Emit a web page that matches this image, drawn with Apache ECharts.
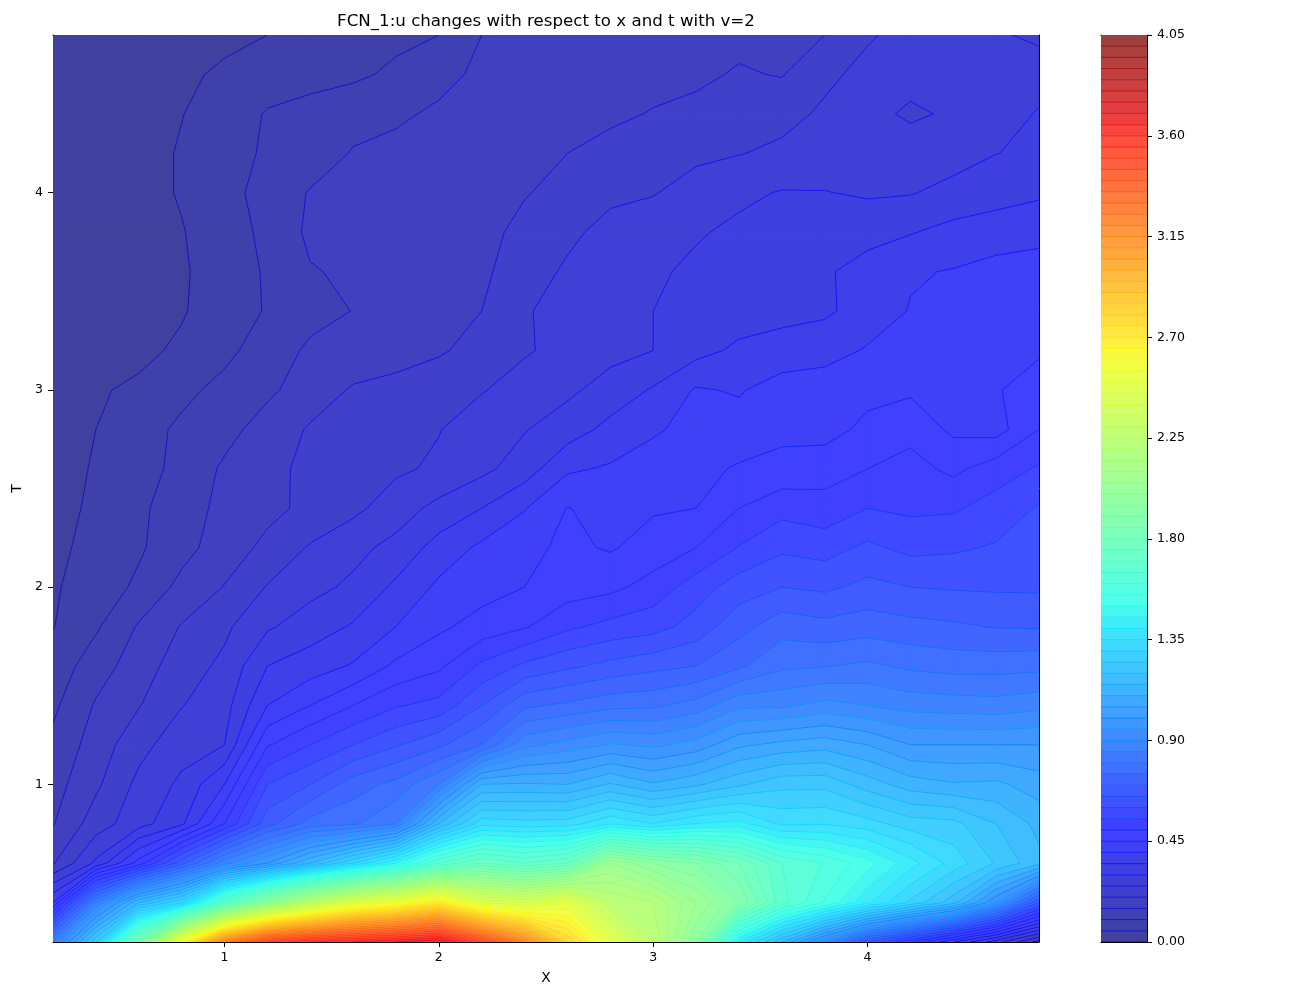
<!DOCTYPE html>
<html><head><meta charset="utf-8"><style>html,body{margin:0;padding:0;background:#fff}#c{width:1300px;height:1000px}</style>
<script src="https://cdn.jsdelivr.net/npm/echarts@6/dist/echarts.min.js"></script></head><body><div id="c"></div>
<script>
const xValues=[0.2,0.4,0.6,0.8,1.0,1.2,1.4,1.6,1.8,2.0,2.2,2.4,2.6,2.8,3.0,3.2,3.4,3.6,3.8,4.0,4.2,4.4,4.6,4.8];
const tValues=[0.2,0.4,0.6,0.8,1.0,1.2,1.4,1.6,1.8,2.0,2.2,2.4,2.6,2.8,3.0,3.2,3.4,3.6,3.8,4.0,4.2,4.4,4.6,4.8];
const u_t02=[.85,1.25,1.85,2.6,3.2,3.5,3.6,3.65,3.7,3.75,3.5,3.2,2.8,2.5,2.25,1.95,1.4,1.15,.9,.65,.5,.35,.22,.08];
const u_t04=[.4,.85,1.15,1.3,1.7,2.0,2.25,2.45,2.55,2.7,2.45,2.4,2.5,2.25,2.2,2.05,1.9,1.67,1.545,1.41,1.29,1.17,.95,.65];
const u_t06=[.195,.31,.47,.68,.88,1.0,1.15,1.3,1.45,1.65,1.75,1.7,1.75,2.05,1.95,1.9,1.8,1.65,1.595,1.52,1.42,1.33,1.245,1.165];
const u_t08=[.147,.225,.28,.34,.5,.68,.77,.79,.85,1.15,1.33,1.32,1.325,1.395,1.35,1.4,1.42,1.34,1.346,1.32,1.275,1.265,1.2,1.135];
const u_t10=[.13,.19,.263,.31,.4,.6,.65,.725,.765,.85,1.1,1.105,1.1,1.155,1.105,1.14,1.19,1.235,1.235,1.175,1.125,1.105,1.11,1.075];
const u_t12=[.112,.172,.233,.28,.3,.495,.55,.6,.645,.69,.75,.885,.92,.955,.94,.97,1.04,1.065,1.08,1.05,1.0,1.0,1.0,1.0];
const u_t14=[.09,.155,.197,.248,.28,.4,.45,.5,.545,.566,.65,.74,.76,.785,.79,.82,.89,.89,.917,.9,.88,.875,.87,.885];
const u_t16=[.07,.127,.175,.226,.261,.35,.375,.405,.46,.49,.56,.61,.64,.665,.685,.7,.74,.79,.797,.81,.79,.78,.78,.785];
const u_t18=[.048,.093,.155,.203,.24,.293,.325,.355,.40,.44,.47,.495,.54,.565,.58,.62,.682,.73,.716,.727,.716,.708,.697,.695];
const u_t20=[.045,.071,.11,.164,.202,.253,.285,.31,.36,.41,.43,.45,.475,.487,.52,.575,.625,.65,.64,.664,.65,.645,.643,.642];
const u_t22=[.04,.063,.093,.133,.175,.212,.255,.285,.315,.37,.41,.437,.46,.445,.47,.5,.553,.59,.58,.61,.586,.592,.605,.623];
const u_t24=[.035,.058,.09,.128,.163,.187,.212,.238,.275,.315,.35,.397,.452,.43,.445,.45,.5,.533,.518,.55,.54,.543,.571,.605];
const u_t26=[.032,.054,.082,.113,.158,.186,.212,.228,.242,.258,.287,.325,.392,.406,.425,.437,.455,.465,.48,.5,.518,.488,.526,.556];
const u_t28=[.03,.05,.078,.11,.133,.172,.205,.217,.235,.248,.275,.297,.325,.365,.393,.417,.422,.438,.43,.463,.484,.44,.43,.5];
const u_t30=[.025,.044,.06,.087,.115,.14,.175,.205,.213,.225,.247,.27,.29,.32,.355,.405,.395,.423,.428,.435,.442,.443,.447,.468];
const u_t32=[.024,.03,.036,.06,.087,.125,.158,.17,.183,.195,.215,.245,.265,.285,.3,.333,.36,.37,.38,.405,.42,.43,.44,.445];
const u_t34=[.022,.03,.036,.045,.08,.103,.135,.151,.168,.178,.2,.245,.27,.285,.3,.315,.325,.335,.342,.37,.403,.415,.425,.44];
const u_t36=[.022,.03,.036,.046,.066,.107,.147,.157,.17,.178,.19,.228,.257,.272,.292,.31,.32,.335,.345,.365,.395,.403,.422,.44];
const u_t38=[.02,.028,.035,.048,.07,.115,.159,.165,.172,.18,.19,.209,.24,.265,.28,.295,.31,.32,.33,.337,.347,.366,.369,.372];
const u_t40=[.018,.026,.037,.053,.08,.122,.153,.163,.172,.18,.19,.198,.21,.24,.247,.27,.29,.303,.302,.293,.297,.315,.335,.345];
const u_t42=[.017,.025,.037,.053,.077,.108,.127,.153,.163,.172,.18,.19,.2,.217,.23,.24,.248,.26,.265,.27,.272,.28,.299,.31];
const u_t44=[.015,.022,.033,.049,.066,.105,.12,.135,.142,.158,.167,.175,.182,.19,.203,.213,.222,.235,.2575,.263,.243,.256,.27,.305];
const u_t46=[.012,.02,.03,.042,.057,.07,.08,.09,.11,.135,.16,.165,.172,.178,.184,.19,.205,.197,.24,.263,.265,.268,.27,.275];
const u_t48=[.01,.015,.02,.03,.04,.05,.063,.075,.088,.10,.15,.156,.162,.168,.175,.181,.187,.194,.2,.245,.265,.27,.256,.24];
const U=[u_t02,u_t04,u_t06,u_t08,u_t10,u_t12,u_t14,u_t16,u_t18,u_t20,u_t22,u_t24,u_t26,u_t28,u_t30,u_t32,u_t34,u_t36,u_t38,u_t40,u_t42,u_t44,u_t46,u_t48];
const xTicks=[1,2,3,4], tTicks=[1,2,3,4];
const barTicks=[0,0.45,0.9,1.35,1.8,2.25,2.7,3.15,3.6,4.05];
const levelStep=0.05, levelCount=81;
const levels=Array.from({length:levelCount+1},(_,i)=>i*levelStep);

const ALPHA=0.75, FONT='"DejaVu Sans"';
function seg(t,p){for(let i=1;i<p.length;i++){if(t<=p[i][0]){const a=p[i-1],b=p[i];return a[1]+(b[1]-a[1])*(t-a[0])/(b[0]-a[0]);}}return p[p.length-1][1];}
function jet(t){t=Math.min(1,t);return [seg(t,[[0,0],[.35,0],[.66,1],[.89,1],[1,.5]]),seg(t,[[0,0],[.125,0],[.375,1],[.64,1],[.91,0],[1,0]]),seg(t,[[0,.5],[.11,1],[.34,1],[.65,0],[1,0]])];}
function rgb(c){return 'rgb('+c.map(v=>Math.round(v*255)).join(',')+')';}
const bandRgb=k=>jet(k/(levelCount-1)).map(v=>ALPHA*v+1-ALPHA);
const bandColor=k=>rgb(bandRgb(k));
const lineColor=k=>{const j=jet(k/levelCount+(k<20?0.04:0)),b=bandRgb(Math.min(k,levelCount-1));return rgb(j.map((v,i)=>0.85*v+0.15*b[i]));};

function clip(poly,level,keepAbove){
  const out=[];
  for(let i=0;i<poly.length;i++){
    const a=poly[i],b=poly[(i+1)%poly.length];
    const ia=keepAbove?a[2]>=level:a[2]<=level, ib=keepAbove?b[2]>=level:b[2]<=level;
    if(ia)out.push(a);
    if(ia!==ib){const f=(level-a[2])/(b[2]-a[2]);out.push([a[0]+f*(b[0]-a[0]),a[1]+f*(b[1]-a[1]),level]);}
  }
  return out;
}
function quad(i,j){
  const x0=xValues[i],x1=xValues[i+1],y0=tValues[j],y1=tValues[j+1];
  return [[x0,y0,U[j][i]],[x1,y0,U[j][i+1]],[x1,y1,U[j+1][i+1]],[x0,y1,U[j+1][i]]];
}
const cells=[];
for(let j=0;j<tValues.length-1;j++)for(let i=0;i<xValues.length-1;i++)cells.push([i,j]);

function renderFill(params,api){
  const q=quad(api.value(0),api.value(1)),children=[];
  const vs=q.map(p=>p[2]),mn=Math.min(...vs),mx=Math.max(...vs);
  const k0=Math.max(0,Math.floor(mn/levelStep)),k1=Math.min(levelCount-1,Math.floor(mx/levelStep));
  for(let k=k0;k<=k1;k++){
    let p=clip(q,levels[k],true);if(p.length<3)continue;
    p=clip(p,levels[k+1],false);if(p.length<3)continue;
    const col=bandColor(k);
    children.push({type:'polygon',shape:{points:p.map(r=>api.coord([r[0],r[1]]))},style:{fill:col,stroke:col,lineWidth:1.4,lineJoin:'round'},silent:true});
  }
  return {type:'group',children};
}
function renderLines(params,api){
  const q=quad(api.value(0),api.value(1)),children=[];
  const vs=q.map(p=>p[2]),mn=Math.min(...vs),mx=Math.max(...vs),mean=(vs[0]+vs[1]+vs[2]+vs[3])/4;
  for(let k=Math.ceil(mn/levelStep);k<=Math.floor(mx/levelStep)&&k<=levelCount;k++){
    const L=levels[k],pts=[];
    for(let e=0;e<4;e++){
      const a=q[e],b=q[(e+1)%4];
      if((a[2]<L)!==(b[2]<L)){const f=(L-a[2])/(b[2]-a[2]);pts.push(api.coord([a[0]+f*(b[0]-a[0]),a[1]+f*(b[1]-a[1])]));}
    }
    let pairs=[];
    if(pts.length===2)pairs=[[pts[0],pts[1]]];
    else if(pts.length===4){
      const firstLow=vs[0]<L;
      pairs=((mean<L)===firstLow)?[[pts[0],pts[3]],[pts[1],pts[2]]]:[[pts[0],pts[1]],[pts[2],pts[3]]];
    }
    for(const pr of pairs)children.push({type:'line',shape:{x1:pr[0][0],y1:pr[0][1],x2:pr[1][0],y2:pr[1][1]},style:{stroke:lineColor(k),lineWidth:0.8},silent:true});
  }
  return {type:'group',children};
}
const barBands=levels.slice(0,levelCount).map((l,k)=>[l,levels[k+1],k]);
function renderBar(params,api){
  const lo=api.value(0),hi=api.value(1),k=api.value(2);
  const a=api.coord([0,lo]),b=api.coord([1,hi]);
  const col=bandColor(k);
  return {type:'rect',shape:{x:a[0],y:b[1],width:b[0]-a[0],height:a[1]-b[1]},style:{fill:col,stroke:col,lineWidth:0.5},silent:true};
}
function renderBarLines(params,api){
  const k=api.value(0);
  const a=api.coord([0,levels[k]]),b=api.coord([1,levels[k]]);
  return {type:'line',shape:{x1:a[0],y1:a[1],x2:b[0],y2:b[1]},style:{stroke:lineColor(k),lineWidth:0.8},silent:true};
}
const axLine={show:true,onZero:false,lineStyle:{color:'#000',width:1}};
const tick={show:true,length:5,lineStyle:{color:'#000',width:1}};
const lab={color:'#000',fontFamily:FONT,fontSize:12.5};
const fmt2=v=>v.toFixed(2);
const chart=echarts.init(document.getElementById('c'),null,{renderer:'canvas'});
chart.setOption({
  animation:false,backgroundColor:'#fff',
  title:{text:'FCN_1:u changes with respect to x and t with v=2',left:541,top:8,textAlign:'center',textStyle:{color:'#000',fontFamily:FONT,fontSize:16.67,fontWeight:'normal'}},
  grid:[{left:53,right:261,top:35,bottom:58},{left:1101,right:153,top:35,bottom:58}],
  xAxis:[
    {type:'value',gridIndex:0,min:0.2,max:4.8,position:'bottom',name:'X',nameLocation:'middle',nameGap:29,nameTextStyle:{color:'#000',fontFamily:FONT,fontSize:13.9},
     axisLine:axLine,axisTick:{...tick,customValues:xTicks},axisLabel:{...lab,margin:9,customValues:xTicks,formatter:v=>String(v)},splitLine:{show:false}},
    {type:'value',gridIndex:0,min:0.2,max:4.8,position:'top',axisLine:axLine,axisTick:{show:false},axisLabel:{show:false},splitLine:{show:false}},
    {type:'value',gridIndex:1,min:0,max:1,position:'bottom',axisLine:axLine,axisTick:{show:false},axisLabel:{show:false},splitLine:{show:false}},
    {type:'value',gridIndex:1,min:0,max:1,position:'top',axisLine:axLine,axisTick:{show:false},axisLabel:{show:false},splitLine:{show:false}}
  ],
  yAxis:[
    {type:'value',gridIndex:0,min:0.2,max:4.8,position:'left',name:'T',nameLocation:'middle',nameGap:23,nameRotate:90,nameTextStyle:{color:'#000',fontFamily:FONT,fontSize:13.9},
     axisLine:axLine,axisTick:{...tick,customValues:tTicks},axisLabel:{...lab,margin:10,padding:[6,0,0,0],customValues:tTicks,formatter:v=>String(v)},splitLine:{show:false}},
    {type:'value',gridIndex:0,min:0.2,max:4.8,position:'right',axisLine:axLine,axisTick:{show:false},axisLabel:{show:false},splitLine:{show:false}},
    {type:'value',gridIndex:1,min:0,max:4.05,position:'right',axisLine:axLine,axisTick:{...tick,customValues:barTicks},axisLabel:{...lab,margin:10,padding:[6,0,0,0],customValues:barTicks,formatter:fmt2},splitLine:{show:false}},
    {type:'value',gridIndex:1,min:0,max:4.05,position:'left',axisLine:axLine,axisTick:{show:false},axisLabel:{show:false},splitLine:{show:false}}
  ],
  series:[
    {type:'custom',xAxisIndex:0,yAxisIndex:0,coordinateSystem:'cartesian2d',data:cells,renderItem:renderFill,encode:{x:0,y:1},clip:true,z:1,silent:true},
    {type:'custom',xAxisIndex:0,yAxisIndex:0,coordinateSystem:'cartesian2d',data:cells,renderItem:renderLines,encode:{x:0,y:1},clip:true,z:2,silent:true},
    {type:'custom',xAxisIndex:2,yAxisIndex:2,coordinateSystem:'cartesian2d',data:barBands,renderItem:renderBar,clip:true,z:1,silent:true},
    {type:'custom',xAxisIndex:2,yAxisIndex:2,coordinateSystem:'cartesian2d',data:levels.slice(0,levelCount).map((_,k)=>[k]),renderItem:renderBarLines,clip:true,z:2,silent:true}
  ]
});
</script></body></html>
